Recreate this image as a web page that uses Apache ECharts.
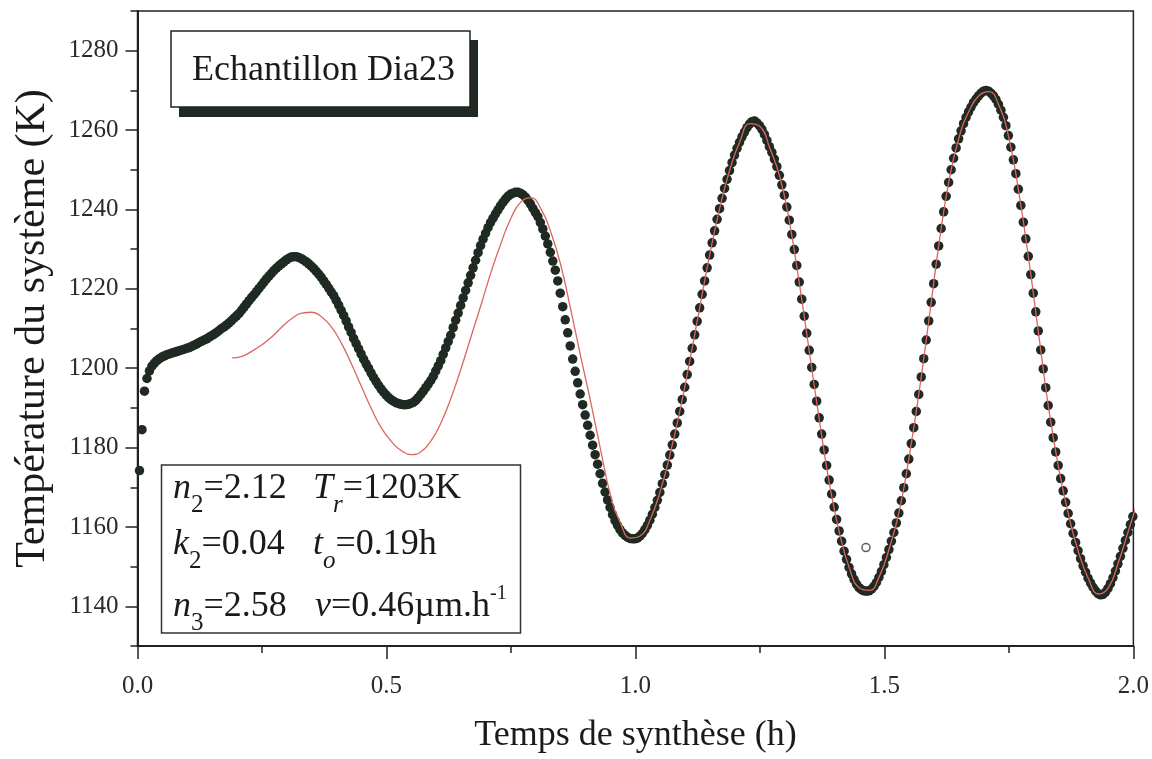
<!DOCTYPE html>
<html>
<head>
<meta charset="utf-8">
<title>Echantillon Dia23</title>
<script src="https://cdn.jsdelivr.net/npm/echarts/dist/echarts.min.js"></script>
<style>
  html, body { margin: 0; padding: 0; background: #fff; }
  #root { width: 1152px; height: 759px; }
</style>
</head>
<body>
<div id="root"></div>
<script>
// measured points: first sample time and sampling step (h)
var tStart = 0.004;
var tStep = 0.005;
// measured system temperature (K), one value per sample
var tempK = [
  1174.2,1184.5,1194.2,1197.4,1199.3,1200.5,1201.3,1201.9,1202.4,1202.8,
  1203.1,1203.4,1203.6,1203.8,1204.0,1204.2,1204.4,1204.6,1204.8,1205.0,
  1205.2,1205.5,1205.8,1206.1,1206.5,1206.8,1207.1,1207.4,1207.8,1208.2,
  1208.6,1209.0,1209.5,1210.0,1210.4,1210.9,1211.4,1212.0,1212.6,1213.2,
  1213.8,1214.6,1215.4,1216.2,1217.0,1217.8,1218.5,1219.3,1220.1,1220.9,
  1221.7,1222.5,1223.2,1223.9,1224.6,1225.2,1225.8,1226.3,1226.8,1227.3,
  1227.7,1228.0,1228.1,
  1228.1,1227.9,1227.6,1227.2,1226.8,1226.3,1225.7,1225.1,1224.4,1223.7,
  1222.9,1222.0,1221.1,1220.2,1219.2,1218.3,1217.1,1215.9,1214.6,1213.3,
  1211.9,1210.4,1209.0,1207.5,1206.2,1204.9,1203.6,1202.3,1201.1,1200.0,
  1198.8,1197.7,1196.7,1195.7,1194.8,1194.0,1193.3,1192.6,1192.1,1191.7,
  1191.3,1191.1,1190.9,1190.8,1190.8,1190.9,1191.1,
  1191.4,1191.9,1192.6,1193.4,1194.2,1195.1,1196.0,1196.9,1198.0,1199.3,
  1200.6,1201.9,1203.5,1205.1,1206.7,1208.3,1210.2,1212.1,1213.9,1215.8,
  1217.7,1219.6,1221.5,1223.4,1225.3,1227.2,1229.1,1230.9,1232.5,1234.0,
  1235.4,1236.7,1237.8,1238.9,1239.9,1240.9,1241.8,1242.6,1243.3,1243.8,
  1244.1,1244.3,1244.3,
  1244.1,1243.7,1243.1,1242.3,1241.4,1240.3,1239.2,
  1238.2,1236.7,1235.1,1233.3,1231.3,1229.2,1227.0,1224.7,1222.0,1218.9,
  1215.5,1212.2,1208.9,1205.6,1202.3,1199.2,1196.3,1193.5,1190.8,1188.2,
  1185.6,1183.1,1180.6,1178.2,1175.8,1173.4,1171.0,1168.8,1166.8,1164.9,
  1163.1,1161.6,1160.4,1159.3,1158.5,1157.9,1157.4,1157.1,1157.0,1157.0,
  1157.2,1157.7,1158.4,1159.3,1160.4,1161.7,1163.2,1164.9,1166.7,1168.7,
  1170.9,1173.2,1175.6,1178.1,1180.7,1183.4,1186.2,1189.1,1192.1,1195.2,
  1198.4,1201.7,1205.0,1208.4,1211.8,1215.2,1218.6,1222.0,1225.3,1228.5,
  1231.6,1234.6,1237.5,1240.2,1242.8,1245.3,1247.6,1249.8,1251.8,1253.7,
  1255.4,1256.9,1258.3,1259.5,1260.6,1261.5,1262.1,
  1262.3,1261.8,1261.1,1260.2,1258.9,1257.4,1255.8,1254.4,1252.7,1250.8,
  1248.6,1246.2,1243.6,1240.6,1237.3,1233.7,1229.9,1225.9,1221.7,1217.4,
  1213.1,1208.8,1204.5,1200.2,1195.9,1191.7,1187.5,1183.4,1179.4,1175.5,
  1171.8,1168.3,1165.0,1161.9,1159.0,1156.4,1153.9,1151.8,1149.8,1148.2,
  1146.8,1145.6,1144.7,1144.2,1143.9,
  1143.8,1143.9,1144.3,1145.0,1146.0,1147.3,1148.8,1150.5,1152.3,1154.3,
  1156.4,1158.6,1161.0,1163.5,1166.6,1169.9,1173.4,1177.1,1181.0,1185.0,
  1189.1,1193.4,1197.8,1202.4,1207.1,1211.9,1216.6,1221.3,1226.2,1230.8,
  1235.2,1239.4,1243.3,1246.8,1250.0,1252.9,1255.5,1257.8,1259.8,1261.6,
  1263.2,1264.6,1265.8,1266.9,1267.8,1268.6,1269.3,1269.8,1270.0,
  1269.8,1269.3,1268.6,1267.7,1266.5,1265.0,1263.2,1261.1,1258.6,
  1255.7,1252.5,1249.0,1245.1,1241.0,1236.8,1232.6,1228.2,1223.6,1218.9,
  1214.2,1209.4,1204.6,1199.8,1195.1,1190.6,1186.4,1182.5,1178.9,1175.5,
  1172.2,1169.1,1166.2,1163.4,1160.8,1158.4,1156.1,1154.0,1152.0,1150.2,
  1148.6,1147.1,1145.9,1144.8,1143.9,1143.2,1142.9,1143.0,1143.6,1144.5,
  1145.7,1147.2,1148.9,1150.7,1152.6,1154.6,1156.6,1158.6,1160.6,1162.6
];

// fitted model curve (red), sampled from t = 0.19 h every 0.02 h
var fitStart = 0.19;
var fitStep = 0.02;
var fitK = [
  1202.6,1203.0,1204.3,1205.9,1207.9,1210.4,1212.5,1213.9,1214.1,1212.9,
  1210.3,1206.2,1201.0,1195.3,1189.7,1184.9,1181.5,1179.2,1178.2,1179.0,
  1181.8,1186.4,1192.6,1200.0,1208.0,1216.0,1224.2,1231.5,1237.8,1241.9,
  1242.9,1240.2,1234.3,1226.0,1214.8,1203.0,1191.6,1179.5,1168.0,1161.0,
  1157.2,1157.8,1162.0,1169.1,1178.6,1189.7,1202.4,1215.9,1229.1,1240.7,
  1250.2,1257.2,1261.6,1260.9,1255.4,1248.2,1236.3,1220.7,1203.5,1186.4,
  1170.6,1158.4,1149.5,1144.6,1144.0,1147.6,1154.7,1164.1,1177.9,1194.3,
  1212.8,1231.7,1247.4,1258.2,1264.8,1268.7,1269.7,1266.2,1258.0,1244.3,
  1227.3,1208.4,1189.8,1174.8,1162.9,1153.6,1146.9,1143.1,1144.7,1151.1,
  1159.0,1167.0
];

// the one open circle point
var outlierT = [1.463];
var outlierK = [1154.8];

// axis ticks
var yMajorTicks = [1140, 1160, 1180, 1200, 1220, 1240, 1260, 1280];

var serif = '"Liberation Serif", "Times New Roman", serif';

var measured = tempK.map(function (v, i) {
  return [+(tStart + i * tStep).toFixed(3), v];
});
var fit = fitK.map(function (v, i) {
  return [+(fitStart + i * fitStep).toFixed(2), v];
});
var outliers = outlierK.map(function (v, i) { return [outlierT[i], v]; });

// text helper for subscripts / superscripts in the parameter box
var cv = document.createElement('canvas').getContext('2d');
function textRun(x, y, parts) {
  var els = [];
  var cx = x;
  parts.forEach(function (p) {
    var size = p.sub ? 25 : (p.sup ? 20 : 36);
    var style = p.it ? 'italic' : 'normal';
    cv.font = style + ' ' + size + 'px ' + serif;
    var w = cv.measureText(p.t).width;
    var dy = p.sub ? 16 : (p.sup ? -13 : 0);
    els.push({
      type: 'text', x: cx, y: y + dy, z: 30,
      style: {
        text: p.t, fill: '#1a1a1a', fontSize: size, fontFamily: serif,
        fontStyle: style, align: 'left', verticalAlign: 'middle'
      }
    });
    cx += w;
  });
  return els;
}

var graphics = [
  { type: 'rect', z: 20, shape: { x: 179, y: 40, width: 299, height: 77 },
    style: { fill: '#1e2a22' } },
  { type: 'rect', z: 21, shape: { x: 171, y: 31, width: 299, height: 76 },
    style: { fill: '#fff', stroke: '#222', lineWidth: 1.5 } },
  { type: 'text', z: 22, x: 192, y: 71,
    style: { text: 'Echantillon Dia23', fill: '#1a1a1a', fontSize: 36,
      fontFamily: serif, align: 'left', verticalAlign: 'middle' } },
  { type: 'rect', z: 20, shape: { x: 161.5, y: 465, width: 359, height: 168 },
    style: { fill: '#fff', stroke: '#333', lineWidth: 1.5 } }
];
graphics = graphics
  .concat(textRun(173, 489, [{ t: 'n', it: true }, { t: '2', sub: true }, { t: '=2.12' }]))
  .concat(textRun(313, 489, [{ t: 'T', it: true }, { t: 'r', sub: true, it: true }, { t: '=1203K' }]))
  .concat(textRun(173, 545, [{ t: 'k', it: true }, { t: '2', sub: true }, { t: '=0.04' }]))
  .concat(textRun(313, 545, [{ t: 't', it: true }, { t: 'o', sub: true, it: true }, { t: '=0.19h' }]))
  .concat(textRun(173, 607, [{ t: 'n', it: true }, { t: '3', sub: true }, { t: '=2.58' }]))
  .concat(textRun(315, 607, [{ t: 'v', it: true }, { t: '=0.46\u00b5m.h' }, { t: '-1', sup: true }]));

var myChart = echarts.init(document.getElementById('root'));
var option = {
  animation: false,
  backgroundColor: '#fff',
  grid: {
    left: 137.5, right: 18, top: 11, bottom: 111,
    show: true, borderColor: '#222', borderWidth: 1.5
  },
  xAxis: {
    type: 'value', min: 0, max: 2, interval: 0.5,
    name: 'Temps de synthèse (h)', nameLocation: 'middle', nameGap: 72,
    nameTextStyle: { fontFamily: serif, fontSize: 36, color: '#1a1a1a' },
    axisLine: { lineStyle: { color: '#222', width: 2 } },
    axisTick: { length: 13, lineStyle: { color: '#222', width: 1.5 } },
    minorTick: { show: true, splitNumber: 2, length: 7, lineStyle: { color: '#222', width: 1.5 } },
    splitLine: { show: false },
    axisLabel: {
      fontFamily: serif, fontSize: 25, color: '#2a2a2a', margin: 28,
      formatter: function (v) { return v.toFixed(1); }
    }
  },
  yAxis: [{
    type: 'value', min: 1130, max: 1290, interval: 10,
    name: 'Température du système (K)', nameLocation: 'middle', nameGap: 84,
    nameTextStyle: { fontFamily: serif, fontSize: 42, color: '#1a1a1a' },
    axisLine: { lineStyle: { color: '#222', width: 2 } },
    axisTick: { length: 7, lineStyle: { color: '#222', width: 1.5 } },
    splitLine: { show: false },
    axisLabel: {
      fontFamily: serif, fontSize: 25, color: '#2a2a2a', margin: 19,
      formatter: function (v) { return v % 20 === 0 ? String(v) : ''; }
    }
  }, {
    type: 'value', min: 1130, max: 1290, position: 'left',
    axisLine: { show: false },
    axisLabel: { show: false },
    splitLine: { show: false },
    axisTick: { show: true, length: 12, customValues: yMajorTicks,
      lineStyle: { color: '#222', width: 1.5 } }
  }],
  series: [{
    name: 'mesure',
    type: 'scatter',
    data: measured,
    symbol: 'circle',
    symbolSize: 9.5,
    itemStyle: { color: '#1f2a23', opacity: 1 },
    z: 2
  }, {
    name: 'modele',
    type: 'line',
    data: fit,
    smooth: true,
    showSymbol: false,
    lineStyle: { color: '#d9675e', width: 1.3 },
    z: 3
  }, {
    name: 'point',
    type: 'scatter',
    data: outliers,
    symbolSize: 8,
    itemStyle: { color: '#fff', borderColor: '#333', borderWidth: 1.5 },
    z: 4
  }],
  graphic: graphics
};
myChart.setOption(option, true);
</script>
</body>
</html>
